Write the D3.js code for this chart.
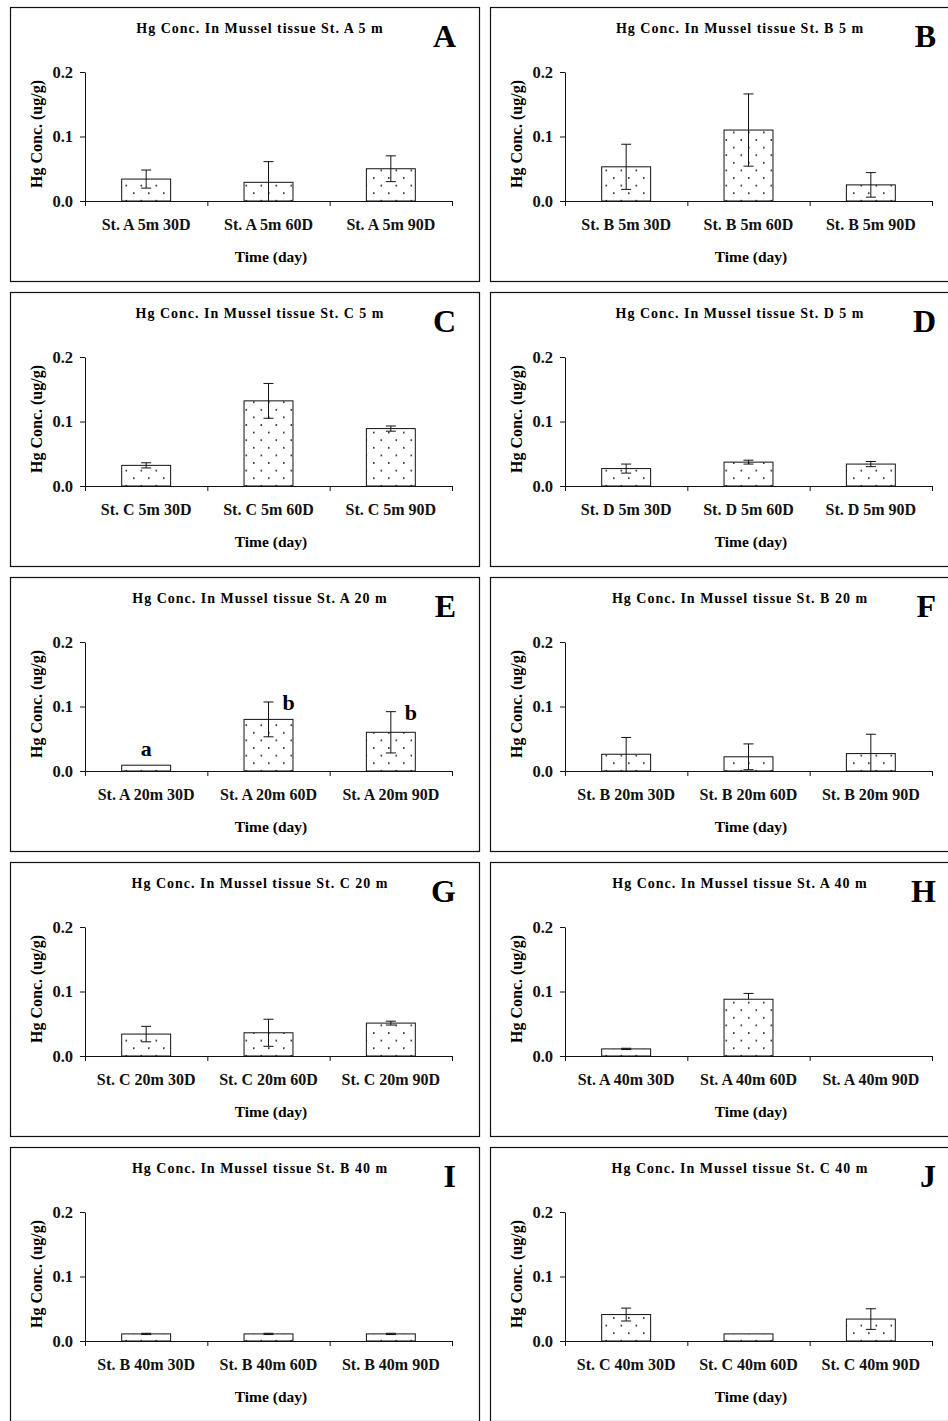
<!DOCTYPE html>
<html lang="en">
<head>
<meta charset="UTF-8">
<title>Hg Conc. In Mussel tissue</title>
<script src="https://cdn.jsdelivr.net/npm/d3@7"></script>
<style>
  body { margin: 0; background: #fff; }
  svg { display: block; font-family: "Liberation Serif", "Times New Roman", serif; font-weight: bold; }
</style>
</head>
<body>
<svg id="chart"></svg>
<script>
    // panel letters, stations and depths (one panel each)
    const panelLetters = ["A", "B", "C", "D", "E", "F", "G", "H", "I", "J"];
    const stations = ["A", "B", "C", "D", "A", "B", "C", "A", "B", "C"];
    const depths = [5, 5, 5, 5, 20, 20, 20, 40, 40, 40];
    const days = ["30D", "60D", "90D"];
    const yTicks = [0, 0.1, 0.2];

    // mean Hg conc. (ug/g) at 30D, 60D, 90D
    const meanHg = [
        [0.034, 0.029, 0.050],
        [0.053, 0.110, 0.025],
        [0.032, 0.132, 0.089],
        [0.027, 0.037, 0.034],
        [0.009, 0.080, 0.060],
        [0.026, 0.022, 0.027],
        [0.034, 0.036, 0.051],
        [0.011, 0.088, null],
        [0.011, 0.011, 0.011],
        [0.041, 0.011, 0.034]
    ];
    // standard deviation for the error bars
    const sdHg = [
        [0.014, 0.032, 0.020],
        [0.035, 0.056, 0.019],
        [0.004, 0.027, 0.004],
        [0.007, 0.003, 0.004],
        [0, 0.027, 0.032],
        [0.026, 0.020, 0.030],
        [0.012, 0.021, 0.003],
        [0.001, 0.009, null],
        [0.001, 0.001, 0.001],
        [0.010, 0, 0.016]
    ];
    // error bars drawn only above the bar
    const upperOnly = ["H-60D"];
    // significance letters
    const sigLetters = {E: ["a", "b", "b"]};

    const width = 948, height = 1421;
    const colX = [10, 490], rowY = [7, 292, 577, 862, 1147];
    const pw = 469, ph = 274;
    const plotL = 75, plotR = 442, plotT = 65, plotB = 194;

    const svg = d3.select("#chart")
        .attr("width", width)
        .attr("height", height);

    const defs = svg.append("defs");
    const pat = defs.append("pattern")
        .attr("id", "dots")
        .attr("patternUnits", "userSpaceOnUse")
        .attr("width", 15)
        .attr("height", 15.2);
    pat.append("rect").attr("width", 15).attr("height", 15.2).attr("fill", "#fff");
    pat.append("rect").attr("x", 3).attr("y", 3).attr("width", 1.6).attr("height", 1.6).attr("fill", "#222");
    pat.append("rect").attr("x", 10.5).attr("y", 10.6).attr("width", 1.6).attr("height", 1.6).attr("fill", "#222");

    const y = d3.scaleLinear().domain([0, 0.2]).range([plotB, plotT]);

    panelLetters.forEach((letter, i) => {
        const g = svg.append("g")
            .attr("transform", `translate(${colX[i % 2]},${rowY[Math.floor(i / 2)]})`);

        g.append("rect")
            .attr("x", 0.5).attr("y", 0.5)
            .attr("width", pw).attr("height", ph)
            .attr("fill", "none")
            .attr("stroke", "#111")
            .attr("stroke-width", 1.2);

        const labels = days.map(d => `St. ${stations[i]} ${depths[i]}m ${d}`);
        const x = d3.scaleBand().domain(labels).range([plotL, plotR]).padding(0);
        const xEdge = d3.scaleLinear().domain([0, 3]).range([plotL, plotR]);

        // bars
        const rows = labels.map((l, j) => ({label: l, day: days[j], v: meanHg[i][j], sd: sdHg[i][j]}));
        const bw = x.bandwidth() * 0.4;
        g.append("g").selectAll("rect")
            .data(rows.filter(d => d.v != null))
            .join("rect")
            .attr("x", d => x(d.label) + (x.bandwidth() - bw) / 2)
            .attr("y", d => y(d.v))
            .attr("width", bw)
            .attr("height", d => y(0) - y(d.v))
            .attr("fill", "url(#dots)")
            .attr("stroke", "#111")
            .attr("stroke-width", 1);

        // error bars
        const eb = g.append("g").attr("stroke", "#111").attr("stroke-width", 1);
        rows.filter(d => d.v != null && d.sd > 0).forEach(d => {
            const cx = x(d.label) + x.bandwidth() / 2;
            const hi = d.v + d.sd;
            const lo = upperOnly.includes(`${letter}-${d.day}`) ? d.v : Math.max(0, d.v - d.sd);
            eb.append("line").attr("x1", cx).attr("x2", cx).attr("y1", y(hi)).attr("y2", y(lo));
            eb.append("line").attr("x1", cx - 5).attr("x2", cx + 5).attr("y1", y(hi)).attr("y2", y(hi));
            if (lo > 0 && lo < d.v) {
                eb.append("line").attr("x1", cx - 5).attr("x2", cx + 5).attr("y1", y(lo)).attr("y2", y(lo));
            }
        });

        // significance letters
        if (sigLetters[letter]) {
            g.append("g").selectAll("text")
                .data(rows)
                .join("text")
                .attr("x", (d, j) => x(d.label) + x.bandwidth() / 2 + (j === 0 ? 0 : 14))
                .attr("y", (d, j) => j === 0 ? y(d.v) - 9 : y(d.v + d.sd) + 8)
                .attr("text-anchor", (d, j) => j === 0 ? "middle" : "start")
                .attr("font-size", 22)
                .text((d, j) => sigLetters[letter][j]);
        }

        // y axis
        const yAxis = g.append("g")
            .attr("transform", `translate(${plotL},0)`)
            .call(d3.axisLeft(y).tickValues(yTicks).tickFormat(d3.format(".1f")).tickSize(5).tickSizeOuter(0).tickPadding(7));
        yAxis.attr("font-family", null).attr("font-size", null);
        yAxis.selectAll("text").attr("font-size", 16.5).attr("fill", "#111");
        yAxis.selectAll("path, line").attr("stroke", "#111");

        // x axis line with ticks at category edges
        const xAxis = g.append("g")
            .attr("transform", `translate(0,${plotB})`)
            .call(d3.axisBottom(xEdge).tickValues([0, 1, 2, 3]).tickFormat("").tickSize(5).tickSizeOuter(0));
        xAxis.selectAll("path, line").attr("stroke", "#111");

        // category labels
        const xLab = g.append("g")
            .attr("transform", `translate(0,${plotB})`)
            .call(d3.axisBottom(x).tickSize(0).tickPadding(18));
        xLab.select(".domain").remove();
        xLab.attr("font-family", null).attr("font-size", null);
        xLab.selectAll("text").attr("font-size", 16).attr("fill", "#111");

        // titles
        g.append("text")
            .attr("x", 250).attr("y", 26)
            .attr("text-anchor", "middle")
            .attr("font-size", 14)
            .attr("letter-spacing", 1)
            .text(`Hg Conc. In Mussel tissue St. ${stations[i]} ${depths[i]} m`);

        g.append("text")
            .attr("x", 446).attr("y", 40)
            .attr("text-anchor", "end")
            .attr("font-size", 32)
            .text(letter);

        g.append("text")
            .attr("x", 261).attr("y", 255)
            .attr("text-anchor", "middle")
            .attr("font-size", 15.5)
            .text("Time (day)");

        g.append("text")
            .attr("transform", "translate(32,127) rotate(-90)")
            .attr("text-anchor", "middle")
            .attr("font-size", 16)
            .text("Hg Conc. (ug/g)");
    });
</script>
</body>
</html>
